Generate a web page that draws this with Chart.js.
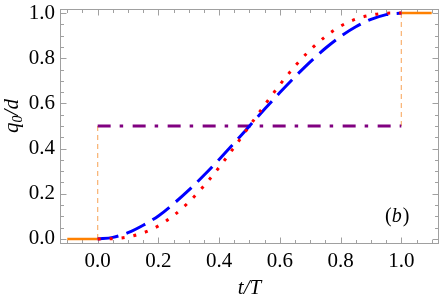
<!DOCTYPE html>
<html>
<head>
<meta charset="utf-8">
<script src="https://cdn.jsdelivr.net/npm/chart.js@4"></script>
<style>
  body { margin: 0; background: #fff; }
  #wrap { width: 441px; height: 299px; }
</style>
</head>
<body>
<div id="wrap"><canvas id="chart" width="441" height="299"></canvas></div>
<script>
// values
let tValues = [0, 0.05, 0.1, 0.15, 0.2, 0.25, 0.3, 0.35, 0.4, 0.45, 0.5,
               0.55, 0.6, 0.65, 0.7, 0.75, 0.8, 0.85, 0.9, 0.95, 1.0];
let blueValues = [0, 0.007, 0.028, 0.061, 0.102, 0.156, 0.216, 0.282, 0.352, 0.425, 0.5,
                  0.575, 0.648, 0.718, 0.784, 0.844, 0.896, 0.939, 0.972, 0.993, 1.0];
let redValues = [0, 0.001, 0.009, 0.027, 0.058, 0.104, 0.163, 0.235, 0.317, 0.407, 0.5,
                 0.593, 0.683, 0.765, 0.837, 0.896, 0.942, 0.973, 0.991, 0.999, 1.0];
let beforeX = [-0.1, 0];
let beforeY = [0, 0];
let afterX = [1.0, 1.1];
let afterY = [1, 1];
let midX = [0, 1];
let midY = [0.5, 0.5];
let jumpStartY = [0, 0.5];
let jumpEndY = [0.5, 1];

let xTicks = [0, 0.2, 0.4, 0.6, 0.8, 1.0];
let yTicks = [0, 0.2, 0.4, 0.6, 0.8, 1.0];

function pts(xs, ys){
    return xs.map((x, i) => ({x: x, y: ys[i]}));
}

const serif = "'Liberation Serif', 'DejaVu Serif', serif";

// frame with inward ticks on all four sides + y axis label + panel tag
const framePlugin = {
    id: 'frame',
    beforeDatasetsDraw(chart){
        let ctx = chart.ctx;
        let a = chart.chartArea;
        let xs = chart.scales.x, ys = chart.scales.y;
        let L = Math.round(a.left) + 0.5, R = Math.round(a.right) - 0.5;
        let T = Math.round(a.top) + 0.5, B = Math.round(a.bottom) - 0.5;
        ctx.save();
        ctx.strokeStyle = '#a0a0a0';
        ctx.lineWidth = 1;
        ctx.strokeRect(L, T, R - L, B - T);
        ctx.beginPath();
        for(let i = -2; i <= 22; i++){
            let v = i * 0.05;
            if(v < xs.min || v > xs.max) continue;
            let len = (i % 4 === 0) ? 6 : 3.5;
            let px = Math.round(xs.getPixelForValue(v)) + 0.5;
            ctx.moveTo(px, B); ctx.lineTo(px, B - len);
            ctx.moveTo(px, T); ctx.lineTo(px, T + len);
        }
        for(let i = 0; i <= 20; i++){
            let v = i * 0.05;
            let len = (i % 4 === 0) ? 6 : 3.5;
            let py = Math.round(ys.getPixelForValue(v)) + 0.5;
            ctx.moveTo(L, py); ctx.lineTo(L + len, py);
            ctx.moveTo(R, py); ctx.lineTo(R - len, py);
        }
        ctx.stroke();
        ctx.restore();
    },
    afterDraw(chart){
        let ctx = chart.ctx;
        ctx.save();
        ctx.fillStyle = '#000';
        // y axis title q0/d, rotated
        ctx.translate(18, 116);
        ctx.rotate(-Math.PI / 2);
        ctx.textBaseline = 'alphabetic';
        let big = 'italic 21px ' + serif;
        let small = 'italic 14px ' + serif;
        ctx.font = big; let w1 = ctx.measureText('q').width;
        ctx.font = small; let w2 = ctx.measureText('0').width;
        ctx.font = big; let w3 = ctx.measureText('/d').width;
        let x0 = -(w1 + w2 + w3) / 2;
        ctx.font = big; ctx.fillText('q', x0, 0);
        ctx.font = small; ctx.fillText('0', x0 + w1, 4);
        ctx.font = big; ctx.fillText('/d', x0 + w1 + w2, 0);
        ctx.restore();

        // panel tag (b)
        ctx.save();
        ctx.fillStyle = '#000';
        ctx.textBaseline = 'alphabetic';
        ctx.font = '20px ' + serif;
        let pw = ctx.measureText('(').width;
        ctx.font = 'italic 20px ' + serif;
        let bw = ctx.measureText('b').width;
        let sx = 385;
        ctx.font = '20px ' + serif;
        ctx.fillText('(', sx, 222);
        ctx.font = 'italic 20px ' + serif;
        ctx.fillText('b', sx + pw, 222);
        ctx.font = '20px ' + serif;
        ctx.fillText(')', sx + pw + bw + 1, 222);
        ctx.restore();
    }
};

const peach = 'rgba(248, 165, 90, 0.8)';

new Chart(document.getElementById('chart'), {
    type: 'line',
    data: {
        datasets: [
            {
                data: pts(tValues, redValues),
                borderColor: '#ff0000',
                borderWidth: 3,
                borderDash: [3, 9],
                cubicInterpolationMode: 'monotone',
                pointRadius: 0
            },
            {
                data: pts(tValues, blueValues),
                borderColor: '#0000ff',
                borderWidth: 3,
                borderDash: [21, 8.5],
                cubicInterpolationMode: 'monotone',
                pointRadius: 0
            },
            {
                data: pts(midX, midY),
                borderColor: '#800080',
                borderWidth: 3,
                borderDash: [13, 9, 3.5, 9.5],
                pointRadius: 0
            },
            {
                data: pts(beforeX, beforeY),
                borderColor: '#ff8000',
                borderWidth: 2.5,
                pointRadius: 0
            },
            {
                data: pts(afterX, afterY),
                borderColor: '#ff8000',
                borderWidth: 2.5,
                pointRadius: 0
            },
            {
                data: pts([0, 0], jumpStartY),
                borderColor: peach,
                borderWidth: 1.3,
                borderDash: [5, 4],
                pointRadius: 0
            },
            {
                data: pts([1, 1], jumpEndY),
                borderColor: peach,
                borderWidth: 1.3,
                borderDash: [5, 4],
                pointRadius: 0
            }
        ]
    },
    options: {
        responsive: false,
        animation: false,
        layout: { padding: { left: 0, right: 2, top: 8.5, bottom: 0 } },
        plugins: {
            legend: { display: false },
            tooltip: { enabled: false }
        },
        scales: {
            x: {
                type: 'linear',
                min: -0.124,
                max: 1.124,
                afterBuildTicks: s => { s.ticks = xTicks.map(v => ({value: v})); },
                afterFit: s => { s.height = 55.5; s.paddingLeft = 0; s.paddingRight = 0; },
                grid: { display: false, drawTicks: false },
                border: { display: false },
                ticks: {
                    padding: 5,
                    color: '#000',
                    font: { family: serif, size: 21 },
                    callback: v => v.toFixed(1)
                },
                title: {
                    display: true,
                    text: 't/T',
                    color: '#000',
                    padding: 0,
                    font: { family: serif, size: 21, style: 'italic', lineHeight: 1.0 }
                }
            },
            y: {
                type: 'linear',
                min: -0.02,
                max: 1.02,
                afterBuildTicks: s => { s.ticks = yTicks.map(v => ({value: v})); },
                afterFit: s => { s.width = 60; s.paddingTop = 0; s.paddingBottom = 0; },
                grid: { display: false, drawTicks: false },
                border: { display: false },
                ticks: {
                    padding: 5,
                    color: '#000',
                    font: { family: serif, size: 21 },
                    callback: v => v.toFixed(1)
                }
            }
        }
    },
    plugins: [framePlugin]
});
</script>
</body>
</html>
